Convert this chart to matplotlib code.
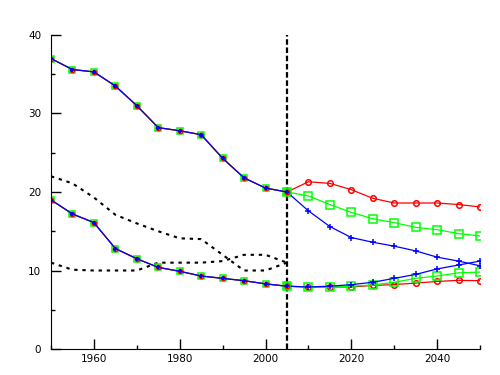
import matplotlib
matplotlib.use("Agg")
import matplotlib.pyplot as plt
from matplotlib.ticker import MultipleLocator

# historical, 1950-2005
hist_years = [1950, 1955, 1960, 1965, 1970, 1975, 1980, 1985, 1990, 1995, 2000, 2005]
hist_upper = [37.0, 35.6, 35.3, 33.5, 31.0, 28.2, 27.8, 27.3, 24.3, 21.8, 20.5, 20.0]
hist_lower = [19.0, 17.2, 16.1, 12.8, 11.5, 10.4, 9.9, 9.3, 9.0, 8.7, 8.3, 8.0]

# reference (dashed) series
ref_upper = [22.0, 21.1, 19.3, 17.1, 16.0, 15.0, 14.1, 14.0, 12.0, 10.0, 10.0, 11.0]
ref_lower = [11.0, 10.1, 10.0, 10.0, 10.0, 11.0, 11.0, 11.0, 11.2, 12.0, 12.0, 11.0]

# projections, 2005-2050
proj_years = [2005, 2010, 2015, 2020, 2025, 2030, 2035, 2040, 2045, 2050]
red_upper = [20.0, 21.3, 21.1, 20.3, 19.2, 18.6, 18.6, 18.6, 18.4, 18.1]
green_upper = [20.0, 19.5, 18.4, 17.4, 16.6, 16.1, 15.5, 15.2, 14.7, 14.4]
blue_upper = [20.0, 17.6, 15.6, 14.2, 13.6, 13.1, 12.5, 11.7, 11.2, 10.6]
red_lower = [8.0, 7.9, 7.9, 7.9, 8.1, 8.2, 8.4, 8.6, 8.75, 8.7]
green_lower = [8.0, 7.9, 7.9, 8.0, 8.15, 8.5, 9.0, 9.3, 9.7, 9.8]
blue_lower = [8.0, 7.9, 8.0, 8.2, 8.5, 9.0, 9.5, 10.2, 10.7, 11.2]

split_year = 2005

fig = plt.figure(figsize=(5, 3.75), dpi=100)
ax = fig.add_axes([0.102, 0.0693, 0.858, 0.8374])

RED, GREEN, BLUE = "#ff0000", "#00ff00", "#0000ff"

# dashed reference curves
for vals in (ref_upper, ref_lower):
    ax.plot(hist_years, vals, color="black", lw=1.5, linestyle=(0, (1.6, 2.3)))

ax.axvline(split_year, color="black", lw=1.6, linestyle=(0, (2.5, 1.2)))

# projections
for vals_u, vals_l, col, mk, ms in [
    (red_upper, red_lower, RED, "o", 4),
    (green_upper, green_lower, GREEN, "s", 5.5),
    (blue_upper, blue_lower, BLUE, "+", 4),
]:
    for vals in (vals_u, vals_l):
        ax.plot(proj_years, vals, color=col, lw=0.9, marker=mk, ms=ms,
                mfc="none", mec=col, mew=1.1)

# historical, markers overlaid
for vals in (hist_upper, hist_lower):
    ax.plot(hist_years, vals, color=GREEN, lw=0.9, marker="s", ms=5, mfc="none", mec=GREEN, mew=1.1)
    ax.plot(hist_years, vals, color=RED, lw=0.9, marker="o", ms=3, mfc="none", mec=RED, mew=1.1)
    ax.plot(hist_years, vals, color=BLUE, lw=0.9, marker="+", ms=3.5, mec=BLUE, mew=1.4)

ax.set_xlim(1950, 2050)
ax.set_ylim(0, 40)
ax.xaxis.set_major_locator(MultipleLocator(20))
ax.xaxis.set_minor_locator(MultipleLocator(10))
ax.yaxis.set_major_locator(MultipleLocator(10))
ax.yaxis.set_minor_locator(MultipleLocator(5))
ax.set_xticks([1960, 1980, 2000, 2020, 2040])
ax.tick_params(which="major", direction="in", length=7, width=1, labelsize=7.5)
ax.tick_params(which="minor", direction="in", length=3, width=1)
ax.tick_params(axis="y", pad=7)
ax.spines["top"].set_visible(False)
ax.spines["right"].set_visible(False)

fig.savefig("out.png", dpi=100)
